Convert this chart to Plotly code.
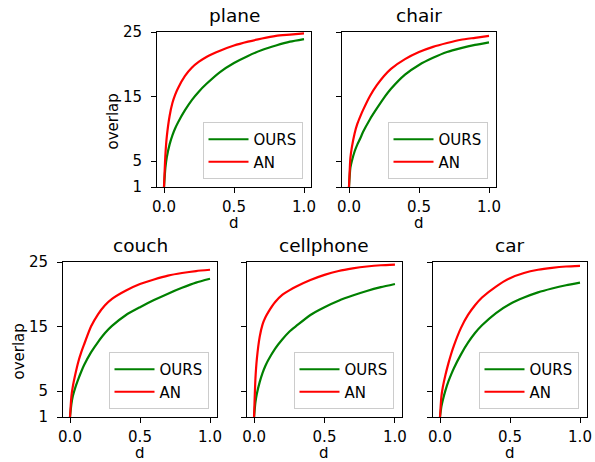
import plotly.graph_objects as go

# ---------------- data ----------------
d = [0, 0.01, 0.02, 0.04, 0.06, 0.08, 0.1, 0.15, 0.2, 0.25, 0.3, 0.4, 0.5, 0.6, 0.7, 0.8, 0.9, 1.0]

plane_ours = [1, 4.0, 5.6, 7.6, 9.0, 10.1, 11.0, 12.9, 14.5, 15.8, 16.9, 18.8, 20.2, 21.3, 22.2, 22.9, 23.5, 23.9]
plane_an = [1, 6.0, 8.8, 12.0, 14.0, 15.3, 16.3, 18.2, 19.5, 20.4, 21.1, 22.1, 22.9, 23.5, 24.0, 24.4, 24.6, 24.8]

chair_ours = [1, 4.0, 5.0, 6.5, 7.6, 8.5, 9.5, 11.5, 13.2, 14.8, 16.2, 18.4, 19.9, 21.0, 21.9, 22.5, 23.0, 23.4]
chair_an = [1, 5.5, 7.1, 9.3, 10.8, 11.9, 12.9, 15.1, 16.8, 18.2, 19.3, 20.8, 21.9, 22.7, 23.3, 23.8, 24.1, 24.4]

couch_ours = [1, 3.0, 4.2, 5.7, 6.9, 8.0, 9.0, 11.0, 12.6, 14.0, 15.1, 16.8, 18.0, 19.1, 20.1, 21.0, 21.8, 22.4]
couch_an = [1, 4.2, 5.7, 7.8, 9.6, 11.0, 12.2, 15.0, 16.9, 18.3, 19.3, 20.6, 21.6, 22.3, 22.9, 23.3, 23.6, 23.8]

cellphone_ours = [1, 3.3, 4.6, 6.4, 7.8, 8.9, 9.8, 11.6, 13.0, 14.2, 15.1, 16.8, 18.0, 19.0, 19.8, 20.5, 21.1, 21.6]
cellphone_an = [1, 7.0, 10.0, 13.4, 15.3, 16.4, 17.2, 18.8, 19.9, 20.6, 21.2, 22.2, 23.0, 23.6, 24.0, 24.3, 24.5, 24.6]

car_ours = [1, 2.6, 3.6, 5.2, 6.5, 7.6, 8.6, 10.7, 12.5, 14.0, 15.2, 17.1, 18.5, 19.5, 20.3, 20.9, 21.4, 21.8]
car_an = [1, 4.2, 5.6, 7.6, 9.3, 10.8, 12.1, 14.8, 16.8, 18.3, 19.5, 21.2, 22.5, 23.3, 23.8, 24.1, 24.3, 24.4]

titles = ["plane", "chair", "couch", "cellphone", "car"]
series = [(plane_ours, plane_an), (chair_ours, chair_an), (couch_ours, couch_an),
          (cellphone_ours, cellphone_an), (car_ours, car_an)]
y_ticks = [1, 5, 15, 25]
x_ticks = [0.0, 0.5, 1.0]
x_tick_text = ["0.0", "0.5", "1.0"]

# ---------------- layout (pixel boxes: left, right, top, bottom) ----------------
W, H = 595, 462
boxes = [(157, 311, 32, 187), (342, 496, 32, 187),
         (63, 217, 262, 417), (247, 402, 262, 417), (433, 587, 262, 417)]
show_ylabels = [True, False, True, False, False]

FONT = "DejaVu Sans"
FS = 15
TFS = 18.5
fig = go.Figure()
annotations = []

for i, (title, (ours, an), box, showy) in enumerate(zip(titles, series, boxes, show_ylabels)):
    n = i + 1
    xa = "x" if n == 1 else f"x{n}"
    ya = "y" if n == 1 else f"y{n}"
    lg = "legend" if n == 1 else f"legend{n}"
    fig.add_trace(go.Scatter(x=d, y=ours, mode="lines", name="OURS",
                             line=dict(color="green", width=2.2, shape="spline", smoothing=0.6),
                             xaxis=xa, yaxis=ya, legend=lg, hoverinfo="skip"))
    fig.add_trace(go.Scatter(x=d, y=an, mode="lines", name="AN",
                             line=dict(color="red", width=2.2, shape="spline", smoothing=0.6),
                             xaxis=xa, yaxis=ya, legend=lg, hoverinfo="skip"))
    l, r, t, b = box
    xdom = [l / W, r / W]
    ydom = [1 - b / H, 1 - t / H]
    axis_common = dict(showline=True, linecolor="black", linewidth=1, mirror=True,
                       ticks="outside", ticklen=5, tickwidth=1, tickcolor="black",
                       showgrid=False, zeroline=False, automargin=False,
                       tickfont=dict(family=FONT, size=FS, color="black"))
    fig.layout[f"xaxis{'' if n == 1 else n}"] = dict(
        domain=xdom, anchor=ya, range=[-0.05, 1.05], tickvals=x_ticks,
        ticktext=x_tick_text, ticklabelstandoff=1, **axis_common)
    fig.layout[f"yaxis{'' if n == 1 else n}"] = dict(
        domain=ydom, anchor=xa, range=[1, 25], tickvals=y_ticks,
        showticklabels=showy, ticklabelstandoff=6, **axis_common)
    fig.layout[lg] = dict(
        x=(r - 8.5) / W, y=1 - (b - 8) / H, xanchor="right", yanchor="bottom",
        bgcolor="rgba(255,255,255,0.8)", bordercolor="#cccccc", borderwidth=1,
        itemwidth=40,
        font=dict(family=FONT, size=FS, color="black"), tracegroupgap=0)
    cx = (l + r) / 2 / W
    annotations.append(dict(text=title, x=cx, y=1 - t / H, xref="paper", yref="paper",
                            xanchor="center", yanchor="bottom", yshift=4, showarrow=False,
                            font=dict(family=FONT, size=TFS, color="black")))
    annotations.append(dict(text="d", x=cx, y=1 - (b + 36) / H, xref="paper", yref="paper",
                            xanchor="center", yanchor="middle", height=12, showarrow=False,
                            font=dict(family=FONT, size=FS, color="black")))
    if showy:
        annotations.append(dict(text="overlap", x=(l - 45) / W, y=1 - ((t + b) / 2 + 12) / H,
                                xref="paper", yref="paper", xanchor="center", yanchor="middle",
                                textangle=-90, showarrow=False,
                                font=dict(family=FONT, size=FS, color="black")))

fig.update_layout(width=W, height=H, margin=dict(l=0, r=0, t=0, b=0),
                  paper_bgcolor="white", plot_bgcolor="white",
                  annotations=annotations, hovermode=False,
                  font=dict(family=FONT, size=FS, color="black"))

fig.write_html("out.html")
